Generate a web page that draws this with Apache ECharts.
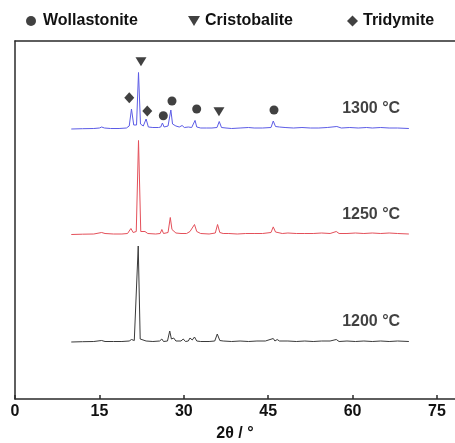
<!DOCTYPE html>
<html>
<head>
<meta charset="utf-8">
<script src="https://cdn.jsdelivr.net/npm/echarts@6/dist/echarts.min.js"></script>
<style>
  html, body { margin: 0; padding: 0; background: #fff; }
  #chart { width: 455px; height: 443px; }
</style>
</head>
<body>
<div id="chart"></div>
<script>
// XRD patterns, [2θ (°), relative intensity]
const pattern1200 = [
  [10, 0], [12, 0.3], [14, 0.5], [15.4, 1.5], [16, 0.5], [17.5, 0.5], [19, 0.5],
  [20.3, 1], [20.7, 2.5], [21.2, 1.5], [21.55, 3], [21.9, 96], [22.25, 3], [22.6, 1],
  [23.3, 1], [24.5, 0.5], [25.7, 1], [26.1, 3], [26.4, 0.5], [27.1, 1], [27.5, 11],
  [27.8, 3], [28.2, 4], [28.6, 1], [29.5, 1], [29.9, 3], [30.3, 0.5], [30.8, 1],
  [31.1, 4], [31.5, 2], [31.9, 5], [32.3, 1], [33, 0.5], [34.5, 0.5], [35.5, 1],
  [35.95, 8], [36.4, 1.5], [37, 1], [38.5, 0.5], [40, 1], [41.5, 0.5], [43, 1],
  [44.5, 1], [45.9, 3.5], [46.2, 1], [46.6, 2.5], [47, 1], [48.5, 1], [50, 0.5],
  [51.5, 1], [53, 0.5], [54.5, 1], [56, 1], [57.1, 2.5], [57.6, 0.5], [59, 1],
  [60.5, 0.5], [62, 1], [63.5, 0.5], [65, 1], [66.5, 0.5], [68, 1], [70, 0.5]
];
const pattern1250 = [
  [10, 0], [12, 0.3], [14, 0.5], [15.4, 2], [16, 1], [17.5, 0.5], [19, 0.5], [20, 1],
  [20.6, 6], [21.0, 2], [21.55, 3], [21.95, 94], [22.35, 3], [23.1, 3], [23.6, 1],
  [25, 0.5], [25.8, 1], [26.1, 5], [26.4, 1], [27.2, 2], [27.6, 17], [27.9, 5],
  [28.2, 6], [28.6, 1.5], [29.5, 1], [30.5, 1], [31.1, 3], [31.4, 5], [31.9, 10],
  [32.3, 3], [33, 1], [34.5, 0.5], [35.6, 1.5], [36.0, 10], [36.4, 2], [37, 1],
  [38, 1], [39.5, 0.5], [41, 1], [42.5, 1], [44, 1], [45.5, 2], [45.9, 7.6],
  [46.3, 2.5], [47.5, 1], [48.5, 1.5], [50, 1], [51.5, 1], [53, 1], [54.5, 1.5],
  [56, 1], [57.1, 3], [57.6, 1], [59, 1], [60.5, 1.5], [62, 1], [63.5, 1.5], [65, 1],
  [66.5, 1.5], [68, 1], [70, 0.5]
];
const pattern1300 = [
  [10, 0], [12, 0.3], [14, 0.5], [15.0, 1], [15.4, 2], [15.9, 1], [17, 0.5],
  [18.5, 0.5], [19.8, 1], [20.3, 3], [20.7, 20], [21.1, 4], [21.6, 4], [21.95, 56.5],
  [22.3, 5], [22.8, 3], [23.3, 10], [23.7, 2], [24.5, 1.5], [25.5, 1.5], [25.9, 2],
  [26.2, 6], [26.5, 2], [27.2, 3], [27.7, 19], [28.0, 5], [28.2, 7], [28.6, 3],
  [29.2, 2], [29.7, 3.5], [30.1, 1.5], [30.8, 2], [31.4, 1.5], [31.7, 3], [32.0, 8.6],
  [32.3, 2], [33, 1], [34, 1], [35, 1], [35.9, 1.5], [36.3, 7.5], [36.7, 1.5],
  [37.5, 1], [38.5, 0.5], [40, 1], [41.5, 1.5], [42.5, 1], [44, 1], [45.5, 1.5],
  [45.9, 8], [46.3, 2.5], [47, 2], [48, 1.5], [49.5, 1], [51, 1.5], [52.5, 1],
  [54, 1], [55.5, 1.5], [57.2, 2.5], [58, 1], [59.5, 1.5], [61, 1], [62.5, 1.5],
  [63.5, 1], [65, 1.5], [66.5, 1], [68, 1], [70, 0.5]
];

// Temperatures, their vertical stacking offsets and line colours
const temperatures = ['1200 °C', '1250 °C', '1300 °C'];
const offsets = [57, 164.5, 270];
const lineColors = ['#3a3a3a', '#e4505a', '#5c5ce6'];
const patterns = [pattern1200, pattern1250, pattern1300];
const labelTheta = 63.3;
const labelRise = 20;

// Phase identification marks on the 1300 °C pattern: [2θ, height]
const wollastonite = [[26.36, 283.3], [27.9, 298], [32.29, 290], [46.03, 289]];
const cristobalite = [[22.39, 337.3], [36.25, 287.3]];
const tridymite = [[20.31, 301.3], [23.51, 288]];

// x axis ticks
const xTicks = [0, 15, 30, 45, 60, 75];

const downTriangle = 'path://M0,0 L12,0 L6,10 Z';
const font = 'Liberation Sans, Arial, sans-serif';
const frameColor = '#2a2a2a';

const lineSeries = patterns.map((p, i) => ({
  name: temperatures[i],
  type: 'line',
  data: p.map(([x, y]) => [x, y + offsets[i]]),
  showSymbol: false,
  silent: true,
  lineStyle: { color: lineColors[i], width: 1 },
  z: 2
}));

const labelSeries = {
  type: 'scatter',
  silent: true,
  symbolSize: 0,
  data: temperatures.map((t, i) => ({ name: t, value: [labelTheta, offsets[i] + labelRise] })),
  label: {
    show: true,
    position: 'inside',
    formatter: p => p.name,
    color: '#111',
    fontFamily: font,
    fontSize: 16,
    fontWeight: 'bold'
  },
  z: 3
};

const markStyle = { color: '#111' };
const phaseSeries = [
  { name: 'Wollastonite', type: 'scatter', symbol: 'circle', symbolSize: 9, data: wollastonite, itemStyle: markStyle, z: 4 },
  { name: 'Cristobalite', type: 'scatter', symbol: downTriangle, symbolSize: [11, 9], data: cristobalite, itemStyle: markStyle, z: 4 },
  { name: 'Tridymite', type: 'scatter', symbol: 'diamond', symbolSize: [10, 11], data: tridymite, itemStyle: markStyle, z: 4 }
];

const legendText = { color: '#111', fontFamily: font, fontSize: 16, fontWeight: 'bold' };
const legends = [
  { data: [{ name: 'Wollastonite', icon: 'circle' }], left: 26, itemWidth: 10, itemHeight: 10,
    textStyle: Object.assign({ padding: [0, 0, 0, 2] }, legendText) },
  { data: [{ name: 'Cristobalite', icon: downTriangle }], left: 188, itemWidth: 12, itemHeight: 10,
    textStyle: Object.assign({ padding: [0, 0, 0, 0] }, legendText) },
  { data: [{ name: 'Tridymite', icon: 'diamond' }], left: 347, itemWidth: 11, itemHeight: 11,
    textStyle: Object.assign({ padding: [0, 0, 0, 0] }, legendText) }
].map(l => Object.assign({ top: 13, padding: 0, selectedMode: false, itemStyle: { color: '#111' } }, l));

const chart = echarts.init(document.getElementById('chart'), null, { renderer: 'canvas' });
chart.setOption({
  animation: false,
  backgroundColor: '#fff',
  legend: legends,
  grid: { left: 15, top: 41, right: 0, height: 358, containLabel: false, outerBoundsMode: 'none' },
  xAxis: [{
    type: 'value',
    min: 0, max: 78.2, interval: 15,
    name: '2θ / °',
    nameLocation: 'middle',
    nameGap: 27,
    nameTextStyle: { color: '#111', fontFamily: font, fontSize: 16, fontWeight: 'bold' },
    axisLine: { show: true, lineStyle: { color: frameColor, width: 1.5 } },
    axisTick: { show: true, inside: true, length: 4, lineStyle: { color: frameColor, width: 1.5 } },
    axisLabel: {
      margin: 5, color: '#111', fontFamily: font, fontSize: 16, fontWeight: 'bold',
      showMaxLabel: false,
      formatter: v => (xTicks.indexOf(v) >= 0 ? String(v) : '')
    },
    splitLine: { show: false }
  }, {
    // top edge of the frame
    type: 'value', position: 'top', min: 0, max: 78.2,
    axisLine: { show: true, onZero: false, lineStyle: { color: frameColor, width: 1.5 } },
    axisTick: { show: false }, axisLabel: { show: false }, splitLine: { show: false }
  }],
  yAxis: {
    type: 'value', min: 0, max: 358,
    axisLine: { show: true, onZero: false, lineStyle: { color: frameColor, width: 1.5 } },
    axisTick: { show: false },
    axisLabel: { show: false }, splitLine: { show: false }
  },
  series: [...lineSeries, labelSeries, ...phaseSeries]
});
</script>
</body>
</html>
